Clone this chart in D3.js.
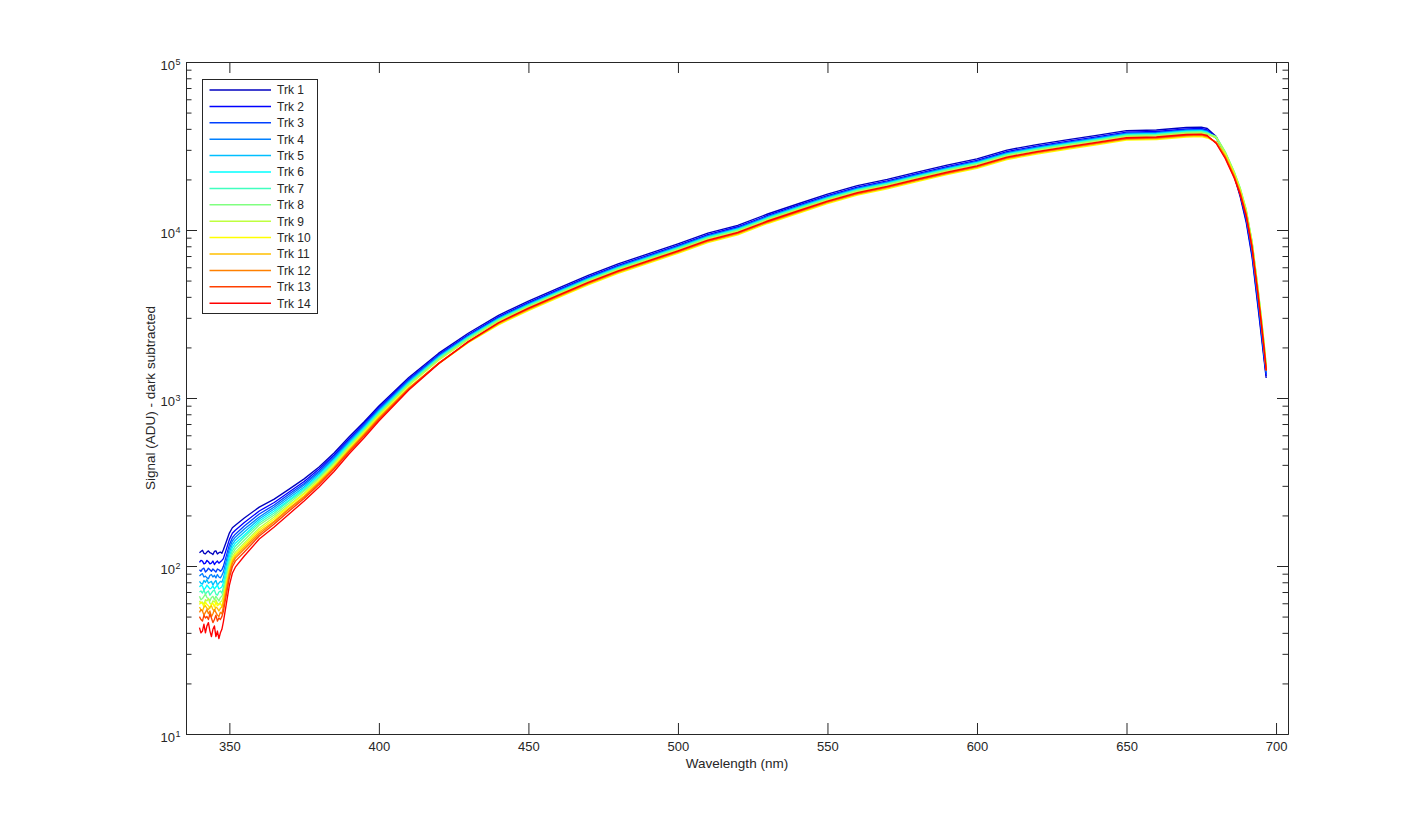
<!DOCTYPE html>
<html><head><meta charset="utf-8">
<script src="https://cdn.jsdelivr.net/npm/d3@7"></script>
<style>
body{margin:0;background:#fff}
svg{display:block}
text{font-family:"Liberation Sans",Arial,Helvetica,sans-serif;fill:#262626}
</style>
</head><body>
<svg id="chart" width="1425" height="825"></svg>
<script>
// ---- data ----
const wavelengths = [340,340.5,341,341.5,342,342.5,343,343.5,344,344.5,345,345.5,346,346.5,347,347.5,348,349,350,351,352,355,360,365,370,375,380,385,390,395,400,410,420,430,440,450,460,470,480,490,500,510,520,530,540,550,560,570,580,590,600,610,620,630,640,650,660,670,675,677,680,683,686,688,690,692,694,695,696,696.7];

const trk1 = [120,122,124,119,118,121,123,120,119,117,122,123,118,120,121,119,125,140,157,169,175,193,224,250,287,330,388,471,586,720,896,1324,1849,2438,3105,3774,4503,5375,6292,7207,8277,9571,10665,12452,14281,16353,18350,20007,22083,24304,26530,29898,32236,34380,36563,39000,39376,40748,41000,40195,36022,28334,20961,15825,11159,6862,3434,2404,1684,1315];
const trk2 = [105,108,107,103,104,108,106,103,104,107,102,105,107,104,106,108,110.7,126,143.5,156.5,163.4,181.6,212.5,238.8,275.7,318.5,378.0,457.9,570.3,705.1,877.8,1297,1811,2389,3042,3699,4413,5268,6166,7063,8111,9380,10452,12203,13995,16026,17983,19607,21641,23818,25999,29300,31591,33692,35832,38220,38588,39933,40180,39378,35531,28450,21250,16154,11470,7100,3578,2505,1742,1352];
const trk3 = [95,93,96,97,92,94,97,95,93,96,94,92,96,95,93,95,99.5,115.3,133.6,147.3,154.7,173.1,204.0,230.7,268.3,309.9,367.8,448.6,558.7,690.7,859.9,1279,1787,2356,3000,3646,4350,5192,6078,6962,7996,9246,10302,12029,13795,15797,17726,19327,21332,23478,25628,28881,31140,33211,35320,37674,38037,39363,39606,38846,35291,28531,21397,16433,11788,7348,3728,2610,1803,1389];
const trk4 = [87,89,90,86,87,85,84,88,89,86,88,85,89,86,85,88,92.0,107.9,126.6,140.8,148.5,166.1,195.8,224.5,261.0,303.6,360.3,439.4,551.1,681.3,848.2,1262,1775,2340,2980,3623,4323,5160,6040,6919,7946,9188,10238,11954,13710,15699,17616,19207,21200,23332,25469,28702,30947,33005,35100,37440,37801,39118,39360,38577,35200,28620,21546,16717,12116,7604,3884,2720,1866,1428];
const trk5 = [81,79,78,82,80,83,79,80,81,77,80,82,77,79,81,80,85.0,101,120,134.6,142.5,159.4,190.5,218.4,254.0,295.4,353.0,430.5,539.9,667.5,836.7,1245,1750,2324,2960,3597,4291,5122,5996,6868,7888,9121,10164,11867,13610,15584,17488,19067,21045,23162,25283,28493,30721,32764,34845,37167,37525,38833,39073,38313,35250,28726,21693,17005,12453,7869,4047,2834,1931,1468];
const trk6 = [75,77,76,72,74,77,75,73,74,76,73,75,77,73,74,75,79.6,95.4,114.2,128.8,136.8,153.0,185.3,212.5,247.1,289.4,345.8,424.6,532.5,658.4,825.3,1228,1738,2308,2940,3574,4264,5090,5959,6825,7838,9064,10100,11792,13524,15486,17377,18947,20913,23016,25124,28313,30527,32558,34625,36933,37289,38588,38827,38052,35531,28923,21841,17299,12799,8143,4217,2953,2012,1509];
const trk7 = [70,71,69,72,68,70,71,67,69,71,72,68,67,70,71,69,74.5,90.0,108.7,123.2,131.2,148.8,180.3,206.8,243.8,283.5,338.8,416.0,525.3,649.4,814.0,1220,1727,2292,2919,3548,4233,5053,5914,6775,7780,8997,10025,11705,13424,15372,17249,18807,20758,22846,24938,28104,30302,32317,34369,36660,37013,38303,38540,37791,35775,29123,22143,17658,13154,8427,4394,3077,2097,1550];
const trk8 = [66,63,64,66,68,65,64,62,65,66,63,66,64,62,65,66,69.8,85.0,103.5,118.0,126.0,142.9,175.4,201.2,237.2,279.7,334.2,410.4,518.1,640.5,803.0,1203,1703,2261,2899,3525,4206,5020,5877,6731,7731,8939,9961,11630,13338,15274,17139,18687,20626,22700,24779,27925,30108,32111,34150,36426,36777,38059,38294,37534,36022,29322,22294,17841,13336,8543,4454,3119,2125,1572];
const trk9 = [62,60,61,59,63,62,64,60,59,62,61,63,60,59,61,62,66.2,80.9,98.9,113.1,120.9,137.1,168.4,195.8,230.8,272.1,327.4,402.0,507.6,631.9,792.1,1187,1680,2230,2860,3476,4147,4950,5795,6638,7623,8815,9822,11468,13153,15061,16900,18426,20338,22384,24434,27536,29689,31664,33675,35919,36265,37529,37761,37024,35291,28923,21992,17598,13154,8427,4394,3077,2097,1550];
const trk10 = [59,61,60,57,61,59,58,56,59,60,57,61,58,59,60,57,63.6,78.0,95.8,109.8,117.6,133.4,163.8,190.5,227.6,268.4,320.7,393.8,497.3,619.1,776.0,1155,1601,2141,2726,3314,3954,4719,5524,6328,7267,8403,9364,10933,12539,14358,16111,17566,19389,21339,23293,26250,28303,30186,32102,34242,34572,35777,35998,35289,33406,28140,21546,17181,12799,8200,4275,2994,2040,1509];
const trk11 = [57,55,54,57,58,56,55,57,58,55,54,57,56,54,56,57,61.1,75.3,92.9,106.8,114.5,129.8,159.4,185.3,221.5,261.1,316.4,388.5,490.5,610.7,765.4,1147,1607,2155,2763,3359,4008,4784,5600,6414,7367,8518,9492,11082,12710,14554,16332,17806,19654,21631,23612,26609,28690,30598,32541,34710,35045,36266,36490,35777,33406,27757,21250,16947,12626,8088,4217,2953,2012,1488];
const trk12 = [53,55,54,51,53,55,52,54,50,52,55,53,51,50,53,52,57.3,71.5,89.3,103.5,111.4,126.3,155.1,182.8,218.4,257.6,312.0,383.2,483.8,602.3,755.0,1139,1610,2160,2783,3382,4035,4816,5638,6457,7416,8576,9556,11157,12796,14652,16442,17926,19786,21776,23771,26789,28883,30804,32760,34944,35281,36510,36736,36022,33176,27380,20961,16717,12453,7978,4160,2913,1985,1468];
const trk13 = [50,48,47,51,49,50,48,52,49,46,48,51,47,49,48,50,53.7,67.5,85.0,99.0,106.9,121.2,150.9,177.9,212.5,252.3,305.7,378.0,477.3,594.1,744.7,1131,1614,2170,2802,3404,4062,4848,5675,6501,7466,8633,9620,11232,12881,14750,16552,18046,19919,21922,23930,26968,29077,31011,32980,35178,35517,36755,36982,36268,32949,27008,20676,16489,12283,7869,4103,2873,1958,1448];
const trk14 = [43,40,41,45,40,44,46,41,38,42,44,38,41,37,40,42,46.5,59.7,76.7,90.5,98.4,114.7,144.8,170.7,204.0,243.8,295.4,365.2,464.3,578.1,729.6,1116,1598,2172,2805,3429,4091,4883,5716,6548,7520,8695,9689,11313,12974,14857,16671,18176,20062,22080,24103,27162,29286,31234,33218,35432,35773,37020,37249,36518,32726,26638,20395,16265,12116,7762,4047,2834,1958,1468];

const trackNames = ["Trk 1","Trk 2","Trk 3","Trk 4","Trk 5","Trk 6","Trk 7","Trk 8","Trk 9","Trk 10","Trk 11","Trk 12","Trk 13","Trk 14"];
const trackColors = ["rgb(0,0,191)","rgb(0,0,255)","rgb(0,64,255)","rgb(0,128,255)","rgb(0,191,255)","rgb(0,255,255)","rgb(64,255,191)","rgb(128,255,128)","rgb(191,255,64)","rgb(255,255,0)","rgb(255,191,0)","rgb(255,128,0)","rgb(255,64,0)","rgb(255,0,0)"];
const xTickValues = [350,400,450,500,550,600,650,700];
const yTickValues = [10,100,1000,10000,100000];
const yTickExponents = ["1","2","3","4","5"];
const xDomain = [335.5, 704];
const yDomain = [10, 100000];

const tracks = [trk1,trk2,trk3,trk4,trk5,trk6,trk7,trk8,trk9,trk10,trk11,trk12,trk13,trk14];

// ---- layout ----
const L = 186, R = 1288, T = 62, B = 734;
const axisColor = "#262626";
const svg = d3.select("#chart");

const x = d3.scaleLinear().domain(xDomain).range([L, R]);
const y = d3.scaleLog().domain(yDomain).range([B, T]);

svg.append("rect").attr("x",0).attr("y",0).attr("width",1425).attr("height",825).attr("fill","#fff");

svg.append("clipPath").attr("id","plotclip").append("rect")
  .attr("x",L).attr("y",T).attr("width",R-L).attr("height",B-T);

// ---- lines ----
const line = d3.line()
  .x((d,i)=>x(wavelengths[i]))
  .y(d=>y(d));

const gLines = svg.append("g").attr("clip-path","url(#plotclip)");
tracks.forEach((vals,k)=>{
  gLines.append("path")
    .attr("d", line(vals))
    .attr("fill","none")
    .attr("stroke", trackColors[k])
    .attr("stroke-width",1.35)
    .attr("stroke-linejoin","round");
});

// ---- axes ----
function styleAxis(g){
  g.selectAll(".domain").attr("stroke",axisColor).attr("stroke-width",1);
  g.selectAll(".tick line").attr("stroke",axisColor).attr("stroke-width",1);
  g.selectAll("text").attr("fill",axisColor);
}
const minorVals = [];
for (let e=1;e<5;e++) for (let m=2;m<=9;m++) minorVals.push(m*Math.pow(10,e));

const gB = svg.append("g").attr("transform",`translate(0,${B})`)
  .call(d3.axisBottom(x).tickValues(xTickValues).tickSizeInner(-11).tickSizeOuter(0).tickPadding(8).tickFormat(d3.format("d")));
gB.attr("font-size",13).attr("font-family","Liberation Sans, Arial, sans-serif");
styleAxis(gB);
const gT = svg.append("g").attr("transform",`translate(0,${T})`)
  .call(d3.axisTop(x).tickValues(xTickValues).tickSizeInner(-11).tickSizeOuter(0).tickFormat(""));
styleAxis(gT);
const gL = svg.append("g").attr("transform",`translate(${L},0)`)
  .call(d3.axisLeft(y).tickValues(yTickValues).tickSizeInner(-11).tickSizeOuter(0).tickFormat(""));
styleAxis(gL);
const gLm = svg.append("g").attr("transform",`translate(${L},0)`)
  .call(d3.axisLeft(y).tickValues(minorVals).tickSizeInner(-5.5).tickSizeOuter(0).tickFormat(""));
styleAxis(gLm);
const gR = svg.append("g").attr("transform",`translate(${R},0)`)
  .call(d3.axisRight(y).tickValues(yTickValues).tickSizeInner(-11).tickSizeOuter(0).tickFormat(""));
styleAxis(gR);
const gRm = svg.append("g").attr("transform",`translate(${R},0)`)
  .call(d3.axisRight(y).tickValues(minorVals).tickSizeInner(-5.5).tickSizeOuter(0).tickFormat(""));
styleAxis(gRm);

// y tick labels with superscripts
const gYL = svg.append("g");
yTickValues.forEach((v,i)=>{
  const yy = y(v);
  gYL.append("text").attr("x",175).attr("y",yy+7.5).attr("text-anchor","end")
    .attr("font-size",13).text("10");
  gYL.append("text").attr("x",175.5).attr("y",yy+2.5).attr("text-anchor","start")
    .attr("font-size",9).text(yTickExponents[i]);
});

// axis titles
svg.append("text").attr("x",(L+R)/2).attr("y",768).attr("text-anchor","middle")
  .attr("font-size",13.5).text("Wavelength (nm)");
svg.append("text").attr("transform",`translate(155,${(T+B)/2}) rotate(-90)`)
  .attr("text-anchor","middle").attr("font-size",13.5).text("Signal (ADU) - dark subtracted");

// ---- legend ----
const lg = svg.append("g");
lg.append("rect").attr("x",202.5).attr("y",79.5).attr("width",115).attr("height",234)
  .attr("fill","#fff").attr("stroke",axisColor).attr("stroke-width",1);
trackNames.forEach((nm,k)=>{
  const yy = 90 + k*16.4;
  lg.append("line").attr("x1",209.5).attr("x2",271).attr("y1",yy).attr("y2",yy)
    .attr("stroke",trackColors[k]).attr("stroke-width",1.5);
  lg.append("text").attr("x",277).attr("y",yy+4.3).attr("font-size",12).attr("fill","#000").text(nm);
});
</script>
</body></html>
